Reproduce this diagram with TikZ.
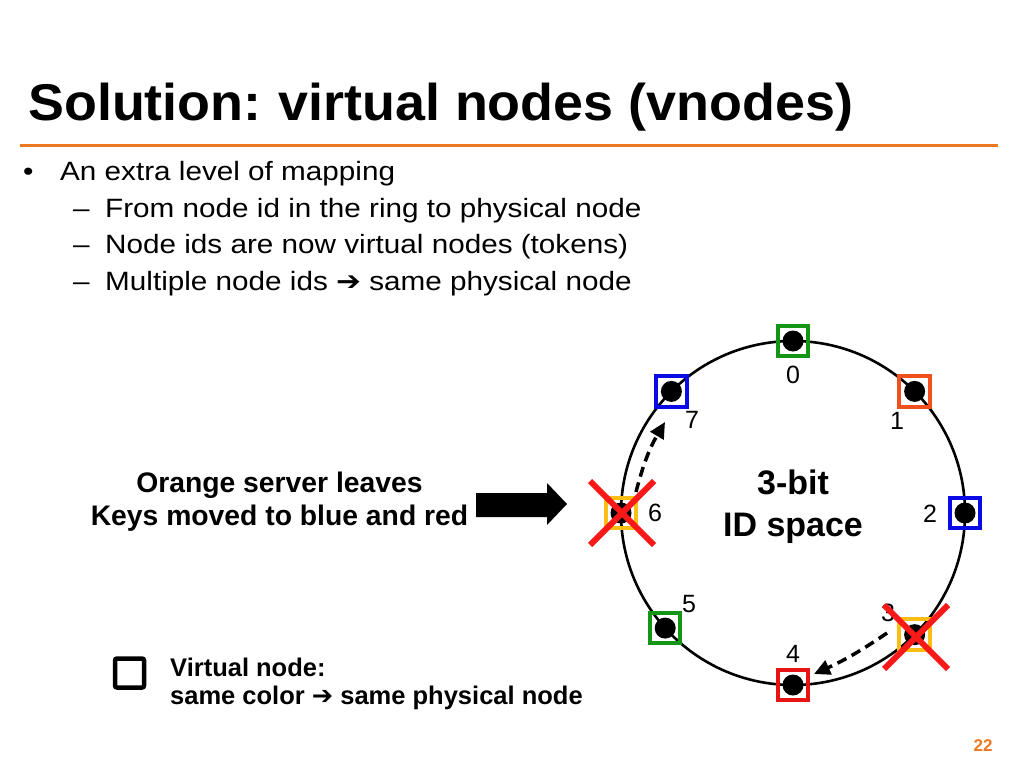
\documentclass[tikz,border=0pt]{standalone}
\usepackage{graphicx}
\usepackage{fontspec}
\setmainfont{Liberation Sans}
\newfontfamily\djv{DejaVu Sans}
\usetikzlibrary{arrows.meta,shapes.misc}
\definecolor{ttlorange}{RGB}{237,120,34}
\definecolor{vgreen}{RGB}{20,150,20}
\definecolor{vblue}{RGB}{10,10,230}
\definecolor{vorange}{RGB}{240,80,30}
\definecolor{vred}{RGB}{230,20,20}
\definecolor{vyellow}{RGB}{250,190,20}
\definecolor{xred}{RGB}{250,25,25}
\newcommand\bodyfont{\fontsize{26.5}{30}\selectfont}
\newcommand\arr{{\djv ➔}}
\begin{document}
\begin{tikzpicture}[x=1pt,y=-1pt,
  txt/.style={inner sep=0pt, anchor=base west},
  bodyline/.style={txt, font=\bodyfont},
  vnode/.style={draw=#1, line width=4pt, minimum size=30.5pt, inner sep=0pt, outer sep=0pt},
  dot/.style={circle, fill=black, minimum size=21pt, inner sep=0pt},
  num/.style={inner sep=0pt, font=\fontsize{25}{25}\selectfont},
  bigx/.style={cross out, draw=xred, line width=6pt, minimum size=58pt, inner sep=0pt},
  dasharrow/.style={line width=3.5pt, dash pattern=on 10pt off 6pt, -{Triangle[length=16pt,width=15pt]}},
  lbl/.style={inner sep=0pt, anchor=base, font=\fontsize{28.3}{30}\selectfont\bfseries},
  legtxt/.style={txt, font=\fontsize{25.5}{28}\selectfont\bfseries}
]
\useasboundingbox (0,0) rectangle (1024,768);

% title
\node[txt, font=\fontsize{51.7}{60}\selectfont\bfseries] (title) at (28,120)
  {\scalebox{1.042}[1]{Solution:\hspace{-3pt} virtual nodes (vnodes)}};
\draw[ttlorange, line width=3pt] (20,145) -- (998,145);

% bullets
\node[bodyline] (b1) at (23,180) {\scalebox{1.12}[1]{•}};
\node[bodyline] (l1) at (60,180) {\scalebox{1.12}[1]{An extra level of mapping}};
\node[bodyline] (d2) at (73,217) {\scalebox{1.12}[1]{–}};
\node[bodyline] (l2) at (105,217) {\scalebox{1.12}[1]{From node id in the ring to physical node}};
\node[bodyline] (d3) at (73,253) {\scalebox{1.12}[1]{–}};
\node[bodyline] (l3) at (105,253) {\scalebox{1.12}[1]{Node ids are now virtual nodes (tokens)}};
\node[bodyline] (d4) at (73,290) {\scalebox{1.12}[1]{–}};
\node[bodyline] (l4) at (105,290) {\scalebox{1.12}[1]{Multiple node ids \arr\ same physical node}};

% ring
\node[circle, draw, line width=2.6pt, minimum size=344pt, inner sep=0pt, outer sep=0pt] (ring) at (793,513) {};

\node[vnode=vgreen]  (v0) at (ring.90)  {};
\node[vnode=vorange] (v1) at (ring.45)  {};
\node[vnode=vblue]   (v2) at (ring.0)   {};
\node[vnode=vyellow] (v3) at (ring.-45) {};
\node[vnode=vred]    (v4) at (ring.-90) {};
\node[vnode=vgreen]  (v5) at (ring.222) {};
\node[vnode=vyellow] (v6) at (ring.180) {};
\node[vnode=vblue]   (v7) at (ring.135) {};
\foreach \i in {0,...,7} { \node[dot] (p\i) at (v\i.center) {}; }

% numbers
\node[num] (n0) at (793,375) {0};
\node[num] (n1) at (897,421) {1};
\node[num] (n2) at (930,514) {2};
\node[num] (n3) at (888,613) {3};
\node[num] (n4) at (793,654) {4};
\node[num] (n5) at (689,604) {5};
\node[num] (n6) at (655,513) {6};
\node[num] (n7) at (692,420) {7};

% center label
\node[inner sep=0pt, anchor=base, font=\fontsize{34}{36}\selectfont\bfseries] (c1) at (793,494) {3-bit};
\node[inner sep=0pt, anchor=base, font=\fontsize{34}{36}\selectfont\bfseries] (c2) at (793,536) {ID space};

% dashed arrows
\coordinate (s6) at (636,492);
\coordinate (e7) at (665,422);
\coordinate (s3) at (887,633);
\coordinate (e4) at (814,674);
\draw[dasharrow] (s6) to[bend left=8] (e7);
\draw[dasharrow] (s3) to[bend left=5] (e4);

% crosses
\node[bigx] (x6) at (622,513) {};
\node[bigx] (x3) at (916,637) {};

% left label and big arrow
\node[lbl] (o1) at (279.5,492) {Orange server leaves};
\node[lbl] (o2) at (279.5,525) {Keys moved to blue and red};
\fill (476,493) -- (547,493) -- (547,483) -- (567,504) -- (547,525) -- (547,517) -- (476,517) -- cycle;

% legend
\node[draw, line width=4.5pt, minimum size=29pt, inner sep=0pt, rounded corners=2pt] (leg) at (129.5,673) {};
\node[legtxt] (lg1) at (170,676) {Virtual node:};
\node[legtxt] (lg2) at (170,704) {same color \arr\ same physical node};

% page number
\node[inner sep=0pt, text=ttlorange, font=\fontsize{17}{17}\selectfont\bfseries] (pg) at (983,746) {22};
\end{tikzpicture}
\end{document}
